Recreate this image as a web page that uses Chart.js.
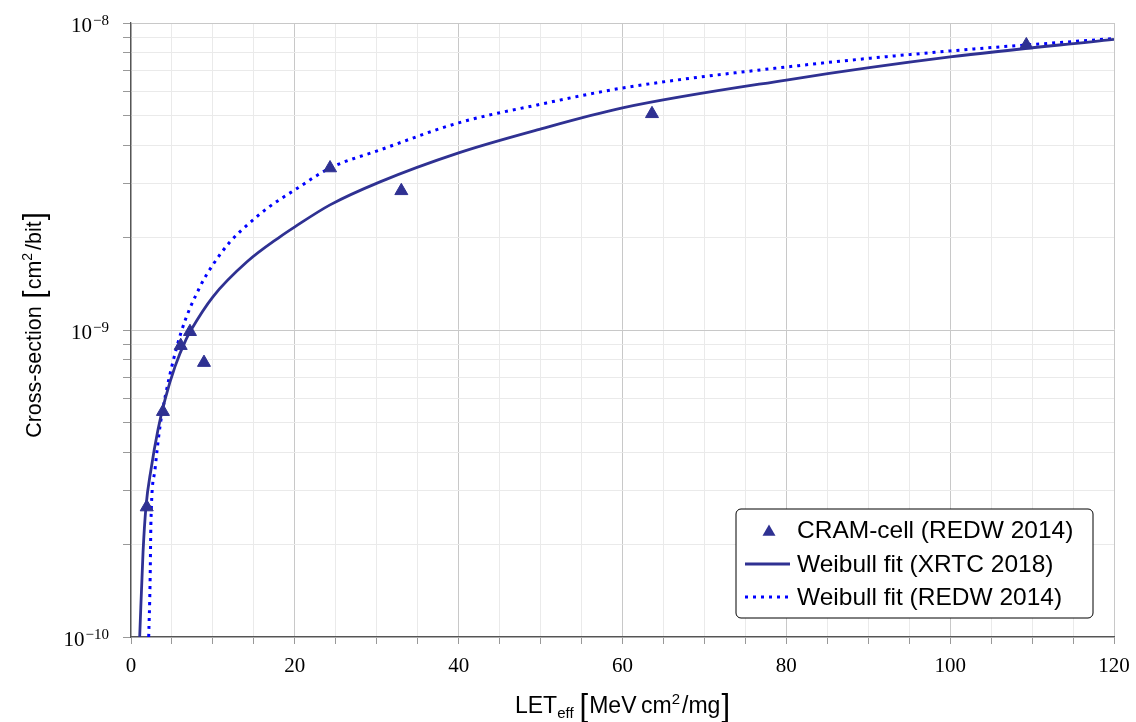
<!DOCTYPE html>
<html>
<head>
<meta charset="utf-8">
<script src="https://cdn.jsdelivr.net/npm/chart.js@4.4.0/dist/chart.umd.min.js"></script>
<style>
  html, body { margin: 0; padding: 0; background: #fff; }
  #wrap { width: 1136px; height: 722px; }
</style>
</head>
<body>
<div id="wrap"><canvas id="chart" width="1136" height="722"></canvas></div>
<script>
// measured points, CRAM-cell (REDW 2014)
const cramLet = [1.92, 3.9, 6.07, 7.2, 8.91, 24.3, 33.0, 63.6, 109.3];
const cramSigma = [2.65e-10, 5.42e-10, 8.89e-10, 9.87e-10, 7.83e-10, 3.37e-9, 2.84e-9, 5.06e-9, 8.48e-9];

// Weibull fit (XRTC 2018)
const xrtcLet = [1.06, 1.47, 1.83, 2.44, 3.3, 4.15, 5.37, 6.71, 7.33, 10, 14.16, 18.19, 20, 24.3, 30.4, 40, 49.6, 60, 80, 100, 120];
const xrtcSigma = [1e-10, 1.89e-10, 2.66e-10, 3.51e-10, 4.74e-10, 5.93e-10, 7.6e-10, 9.3e-10, 1.0e-9, 1.283e-9, 1.668e-9, 2.012e-9, 2.168e-9, 2.556e-9, 3.038e-9, 3.776e-9, 4.485e-9, 5.29e-9, 6.52e-9, 7.75e-9, 8.85e-9];

// Weibull fit (REDW 2014)
const redwLet = [2.16, 2.32, 2.44, 2.93, 3.54, 4.27, 6.1, 8.42, 10, 12.1, 14.5, 16.7, 20, 24.3, 30.4, 40, 49.6, 60, 80, 100, 120];
const redwSigma = [1e-10, 1.46e-10, 2.41e-10, 3.51e-10, 4.85e-10, 6.25e-10, 9.8e-10, 1.383e-9, 1.631e-9, 1.938e-9, 2.234e-9, 2.5e-9, 2.86e-9, 3.37e-9, 3.86e-9, 4.73e-9, 5.41e-9, 6.14e-9, 7.19e-9, 8.11e-9, 8.9e-9];

// axis ticks
const yExponents = [-10, -9, -8];
const yMinorMult = [2, 3, 4, 5, 6, 7, 8, 9];
const xLabelStep = 20;

const legendLabels = ['CRAM-cell (REDW 2014)', 'Weibull fit (XRTC 2018)', 'Weibull fit (REDW 2014)'];

const navy = '#2f3192';
const blue = '#0000ff';
const gridMajor = '#c8c8c8';
const gridMinor = '#eaeaea';

const toXY = (xs, ys) => xs.map((x, i) => ({ x: x, y: ys[i] }));

function isDecade(v) {
    const l = Math.log10(v);
    return Math.abs(l - Math.round(l)) < 1e-6;
}

// draw a row of text pieces (sub/superscripts, big brackets)
function drawRuns(ctx, runs, x, y, family) {
    let total = 0;
    runs.forEach(r => {
        ctx.font = r.s + 'px ' + family;
        r.w = ctx.measureText(r.t).width;
        total += r.w + (r.gap || 0);
    });
    let cx = x - total / 2;
    runs.forEach(r => {
        ctx.font = r.s + 'px ' + family;
        ctx.fillText(r.t, cx, y + (r.dy || 0));
        cx += r.w + (r.gap || 0);
    });
}

const extras = {
    id: 'extras',
    afterDraw(chart) {
        const ctx = chart.ctx;
        const yScale = chart.scales.y;
        const area = chart.chartArea;
        ctx.save();
        ctx.fillStyle = '#000';
        ctx.textBaseline = 'alphabetic';

        // y tick labels 10^n
        ctx.textAlign = 'left';
        yExponents.forEach(e => {
            const py = yScale.getPixelForValue(Math.pow(10, e));
            const expText = '\u2212' + Math.abs(e);
            ctx.font = '15px "Liberation Serif"';
            const ew = ctx.measureText(expText).width;
            ctx.font = '21px "Liberation Serif"';
            const bw = ctx.measureText('10').width;
            const right = 109;
            ctx.fillText('10', right - ew - bw - 1, py + 9);
            ctx.font = '15px "Liberation Serif"';
            ctx.fillText(expText, right - ew, py + 2);
        });

        const sans = '"Liberation Sans"';
        // x title
        drawRuns(ctx, [
            { t: 'LET', s: 23 },
            { t: 'eff', s: 15, dy: 5, gap: 6 },
            { t: '[', s: 31, dy: 3, gap: 1 },
            { t: 'MeV\u2009cm', s: 23 },
            { t: '2', s: 15, dy: -9, gap: 2 },
            { t: '/mg', s: 23, gap: 1 },
            { t: ']', s: 31, dy: 3 }
        ], (area.left + area.right) / 2, 713, sans);

        // y title
        ctx.save();
        ctx.translate(41, 325);
        ctx.rotate(-Math.PI / 2);
        drawRuns(ctx, [
            { t: 'Cross-section ', s: 21.5, gap: 2 },
            { t: '[', s: 29, dy: 3, gap: 1 },
            { t: 'cm', s: 21.5 },
            { t: '2', s: 14, dy: -9, gap: 3 },
            { t: '/bit', s: 21.5, gap: 1 },
            { t: ']', s: 29, dy: 3 }
        ], 0, 0, sans);
        ctx.restore();

        // legend box
        const lx = 736, ly = 509, lw = 357, lh = 109;
        ctx.beginPath();
        ctx.roundRect(lx, ly, lw, lh, 5);
        ctx.fillStyle = '#fff';
        ctx.fill();
        ctx.lineWidth = 1;
        ctx.strokeStyle = '#000';
        ctx.stroke();

        const rows = [530, 564, 597];
        // triangle
        ctx.fillStyle = navy;
        ctx.beginPath();
        const r = 7.5, tx = 769, ty = rows[0] + 2;
        ctx.moveTo(tx, ty - r);
        ctx.lineTo(tx + r * 0.866, ty + r / 2);
        ctx.lineTo(tx - r * 0.866, ty + r / 2);
        ctx.closePath();
        ctx.fill();
        // solid sample
        ctx.strokeStyle = navy;
        ctx.lineWidth = 2.8;
        ctx.beginPath();
        ctx.moveTo(745, rows[1]);
        ctx.lineTo(790, rows[1]);
        ctx.stroke();
        // dotted sample
        ctx.strokeStyle = blue;
        ctx.lineWidth = 3;
        ctx.setLineDash([3, 5]);
        ctx.beginPath();
        ctx.moveTo(745, rows[2]);
        ctx.lineTo(792, rows[2]);
        ctx.stroke();
        ctx.setLineDash([]);

        ctx.fillStyle = '#000';
        ctx.textAlign = 'left';
        ctx.textBaseline = 'middle';
        ctx.font = '24.5px ' + sans;
        legendLabels.forEach((t, i) => ctx.fillText(t, 797, rows[i] + 1));
        ctx.restore();
    }
};

new Chart(document.getElementById('chart'), {
    type: 'line',
    data: {
        datasets: [{
            label: legendLabels[0],
            data: toXY(cramLet, cramSigma),
            showLine: false,
            pointStyle: 'triangle',
            pointRadius: 7.5,
            pointBorderWidth: 1,
            backgroundColor: navy,
            borderColor: navy
        }, {
            label: legendLabels[1],
            data: toXY(xrtcLet, xrtcSigma),
            borderColor: navy,
            borderWidth: 2.8,
            pointRadius: 0,
            cubicInterpolationMode: 'monotone',
            fill: false
        }, {
            label: legendLabels[2],
            data: toXY(redwLet, redwSigma),
            borderColor: blue,
            borderWidth: 3,
            borderDash: [3, 5],
            borderCapStyle: 'butt',
            pointRadius: 0,
            cubicInterpolationMode: 'monotone',
            fill: false
        }]
    },
    options: {
        responsive: false,
        animation: false,
        events: [],
        layout: { padding: { top: 23, right: 22, left: 0, bottom: 0 } },
        plugins: {
            legend: { display: false },
            tooltip: { enabled: false }
        },
        scales: {
            x: {
                type: 'linear',
                min: 0,
                max: 120,
                afterFit: s => {
                    s.height = 85;
                    s.paddingLeft = 0;
                    s.paddingRight = 0;
                },
                ticks: {
                    stepSize: 5,
                    autoSkip: false,
                    maxRotation: 0,
                    padding: 10,
                    color: '#000',
                    font: { family: '"Liberation Serif"', size: 21 },
                    callback: v => (v % xLabelStep === 0 ? v : '')
                },
                grid: {
                    color: c => (c.tick && c.tick.value % xLabelStep === 0 ? gridMajor : gridMinor),
                    tickColor: '#999',
                    tickLength: 7,
                    lineWidth: 1
                },
                border: { color: '#555', width: 1.3 }
            },
            y: {
                type: 'logarithmic',
                min: Math.pow(10, yExponents[0]),
                max: Math.pow(10, yExponents[yExponents.length - 1]),
                afterFit: s => {
                    s.width = 131;
                    s.paddingTop = 0;
                    s.paddingBottom = 0;
                },
                afterBuildTicks: s => {
                    const t = [];
                    yExponents.forEach((e, i) => {
                        t.push({ value: Math.pow(10, e) });
                        if (i < yExponents.length - 1) {
                            yMinorMult.forEach(m => t.push({ value: m * Math.pow(10, e) }));
                        }
                    });
                    s.ticks = t;
                },
                ticks: { display: false },
                grid: {
                    color: c => (c.tick && isDecade(c.tick.value) ? gridMajor : gridMinor),
                    tickColor: '#999',
                    tickLength: 8,
                    lineWidth: 1
                },
                border: { color: '#555', width: 1.3 }
            }
        }
    },
    plugins: [extras]
});
</script>
</body>
</html>
